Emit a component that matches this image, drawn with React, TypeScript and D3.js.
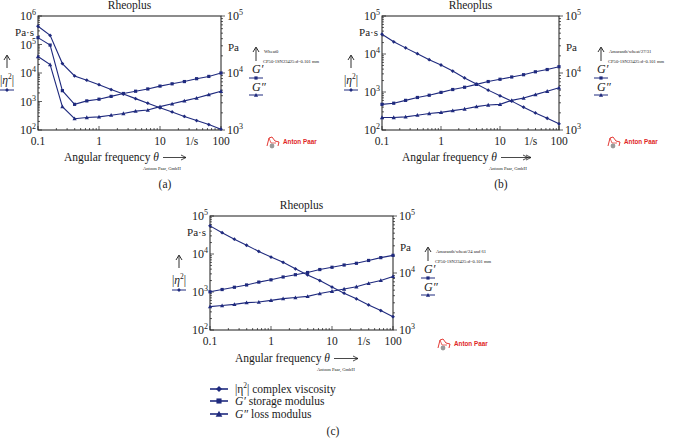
import React from 'react';
import * as d3 from 'd3';

// ---------- data ----------
const freq = [0.1, 0.158, 0.251, 0.398, 0.631, 1, 1.58, 2.51, 3.98, 6.31, 10, 15.8, 25.1, 39.8, 63.1, 100];

// panel (a) – Wheat0
const etaA = [436000, 209000, 21400, 7900, 5600, 3900, 2630, 1820, 1260, 870, 600, 430, 300, 214, 155, 107];
const gpA = [41700, 30900, 4900, 2820, 3240, 3470, 3890, 4370, 4790, 5250, 5890, 6460, 7080, 7940, 8710, 10000];
const gppA = [19500, 14100, 2570, 1580, 1660, 1700, 1820, 1950, 2140, 2240, 2570, 2880, 3240, 3630, 4170, 4790];

// panel (b) – Amaranth/wheat/27/31
const etaB = [33100, 20900, 14500, 10200, 7080, 5130, 3550, 2340, 1620, 1120, 794, 575, 398, 282, 204, 145];
const gpB = [2820, 2950, 3310, 3720, 4070, 4570, 5130, 5620, 6310, 7080, 7760, 8510, 9330, 10500, 11500, 12900];
const gppB = [1660, 1660, 1700, 1820, 1950, 2040, 2190, 2340, 2570, 2750, 2820, 3310, 3630, 4170, 4790, 5500];

// panel (c) – Amaranth/wheat/24 and 61
const etaC = [55000, 36300, 24500, 17000, 11700, 8320, 6030, 4070, 2820, 2000, 1350, 933, 661, 457, 324, 224];
const gpC = [4680, 5130, 5620, 6170, 6920, 7590, 8510, 9330, 10200, 11500, 12600, 13800, 14800, 16600, 18600, 20400];
const gppC = [2570, 2690, 2820, 3020, 3090, 3310, 3550, 3720, 3890, 4370, 4790, 5250, 5750, 6610, 7410, 8710];

const xTickValues = [0.1, 1, 10, 100];
const xTickLabels = ['0.1', '1', '10', '100'];
const unitTickValue = 33;
const unitLabel = '1/s';
const sampleNames = ['Wheat0', 'Amaranth/wheat/27/31', 'Amaranth/wheat/24 and 61'];
const geometryText = 'CP50-1SN23425:d=0.101 mm';
const panelLetters = ['(a)', '(b)', '(c)'];
const legendLabels = ['complex viscosity', 'storage modulus', 'loss modulus'];

// ---------- style ----------
const NAVY = '#1f2a7e';
const INK = '#1a1a1a';
const RED = '#e0261f';
const SERIF = '"Liberation Serif", "DejaVu Serif", serif';
const SANS = '"Liberation Sans", Arial, sans-serif';

type Cfg = {
  left: number; right: number; top: number; bottom: number;
  leftExp: [number, number];
  eta: number[]; gp: number[]; gpp: number[];
  sample: string; letter: string;
  legendX: number; logoX: number; logoY: number;
  titleEnd: number; titleY: number; arrowEnd: number; doubleArrow: boolean;
  creditX: number; letterX: number; letterY: number;
};

const panels: Cfg[] = [
  {
    left: 38, right: 221, top: 16, bottom: 130, leftExp: [2, 6],
    eta: etaA, gp: gpA, gpp: gppA, sample: sampleNames[0], letter: panelLetters[0],
    legendX: 256, logoX: 266, logoY: 136,
    titleEnd: 159, titleY: 161, arrowEnd: 186, doubleArrow: false,
    creditX: 143, letterX: 165, letterY: 188,
  },
  {
    left: 382, right: 559, top: 16, bottom: 130, leftExp: [2, 5],
    eta: etaB, gp: gpB, gpp: gppB, sample: sampleNames[1], letter: panelLetters[1],
    legendX: 601, logoX: 607, logoY: 136,
    titleEnd: 497, titleY: 161, arrowEnd: 531, doubleArrow: true,
    creditX: 489, letterX: 501, letterY: 188,
  },
  {
    left: 210, right: 393, top: 216, bottom: 330, leftExp: [2, 5],
    eta: etaC, gp: gpC, gpp: gppC, sample: sampleNames[2], letter: panelLetters[2],
    legendX: 428, logoX: 437, logoY: 338,
    titleEnd: 330, titleY: 362, arrowEnd: 358, doubleArrow: false,
    creditX: 317, letterX: 333, letterY: 435,
  },
];

function Marker({ kind, x, y, s = 1 }: { kind: string; x: number; y: number; s?: number }) {
  if (kind === 'eta') {
    const r = 1.9 * s;
    return <path d={`M${x},${y - r}L${x + r},${y}L${x},${y + r}L${x - r},${y}Z`} fill={NAVY} />;
  }
  if (kind === 'gp') {
    const h = 1.6 * s;
    return <rect x={x - h} y={y - h} width={2 * h} height={2 * h} fill={NAVY} />;
  }
  const h = 2.1 * s;
  return <path d={`M${x},${y - h}L${x + h},${y + h * 0.8}L${x - h},${y + h * 0.8}Z`} fill={NAVY} />;
}

function Pow({ x, y, exp, anchor }: { x: number; y: number; exp: number; anchor: 'start' | 'end' }) {
  return (
    <text x={x} y={y} textAnchor={anchor} fontSize={12} fill={INK}>
      10<tspan dy={-5} fontSize={8}>{exp}</tspan>
    </text>
  );
}

function logTicks(minExp: number, maxExp: number) {
  const out: { v: number; major: boolean }[] = [];
  for (let e = minExp; e <= maxExp; e++) {
    out.push({ v: Math.pow(10, e), major: true });
    if (e < maxExp) for (let m = 2; m <= 9; m++) out.push({ v: m * Math.pow(10, e), major: false });
  }
  return out;
}

function Logo({ x, y }: { x: number; y: number }) {
  return (
    <g>
      <path d={`M${x + 1},${y + 10} L${x + 3},${y + 2} L${x + 6},${y + 1} L${x + 9},${y + 5} L${x + 13},${y + 6} L${x + 12},${y + 10}`}
        fill="none" stroke={RED} strokeWidth={0.9} />
      <path d={`M${x + 3},${y + 2} L${x + 5},${y + 7} L${x + 10},${y + 7}`} fill="none" stroke={RED} strokeWidth={0.7} />
      <circle cx={x + 6} cy={y + 10} r={2.4} fill="#9a9a9a" />
      <text x={x + 17} y={y + 8} style={{ fontFamily: SANS }} fontWeight="bold" fontSize={6.3} fill={RED}>Anton Paar</text>
    </g>
  );
}

function Panel({ c }: { c: Cfg }) {
  const x = d3.scaleLog().domain([0.1, 100]).range([c.left, c.right]);
  const yL = d3.scaleLog().domain([Math.pow(10, c.leftExp[0]), Math.pow(10, c.leftExp[1])]).range([c.bottom, c.top]);
  const yR = d3.scaleLog().domain([1e3, 1e5]).range([c.bottom, c.top]);
  const mk = (vals: number[], sc: d3.ScaleLogarithmic<number, number>) =>
    d3.line<number>().x((_, i) => x(freq[i])).y((d) => sc(d))(vals) || '';

  const series = [
    { kind: 'eta', vals: c.eta, sc: yL },
    { kind: 'gp', vals: c.gp, sc: yR },
    { kind: 'gpp', vals: c.gpp, sc: yR },
  ];
  const cx = (c.left + c.right) / 2;
  const lx = c.left - 31;
  const ax = c.arrowEnd;

  return (
    <g style={{ fontFamily: SERIF }}>
      <text x={cx} y={c.top - 7} textAnchor="middle" fontSize={11.5} fill={INK}>Rheoplus</text>
      <rect x={c.left} y={c.top} width={c.right - c.left} height={c.bottom - c.top} fill="none" stroke={INK} strokeWidth={1} />
      {logTicks(c.leftExp[0], c.leftExp[1]).map((t, i) => (
        <line key={'l' + i} x1={c.left} x2={c.left + (t.major ? 4 : 2)} y1={yL(t.v)} y2={yL(t.v)} stroke={INK} strokeWidth={0.7} />
      ))}
      {logTicks(3, 5).map((t, i) => (
        <line key={'r' + i} x1={c.right} x2={c.right + (t.major ? 4 : 2)} y1={yR(t.v)} y2={yR(t.v)} stroke={INK} strokeWidth={0.7} />
      ))}
      {logTicks(-1, 2).map((t, i) => (
        <line key={'b' + i} x1={x(t.v)} x2={x(t.v)} y1={c.bottom} y2={c.bottom - (t.major ? 4 : 2)} stroke={INK} strokeWidth={0.7} />
      ))}
      {d3.range(c.leftExp[0], c.leftExp[1] + 1).map((e) => (
        <Pow key={'ll' + e} x={c.left - 2} y={yL(Math.pow(10, e)) + 4} exp={e} anchor="end" />
      ))}
      {[3, 4, 5].map((e) => (
        <Pow key={'rl' + e} x={c.right + 6} y={yR(Math.pow(10, e)) + 4} exp={e} anchor="start" />
      ))}
      <text x={c.left - 4} y={c.top + 19.5} textAnchor="end" fontSize={11} fill={INK}>Pa·s</text>
      <text x={c.right + 7} y={c.top + 35} fontSize={11} fill={INK}>Pa</text>
      {xTickValues.map((v, i) => (
        <text key={'xl' + i} x={x(v)} y={c.bottom + 15} textAnchor="middle" fontSize={11.5} fill={INK}>{xTickLabels[i]}</text>
      ))}
      <text x={x(unitTickValue)} y={c.bottom + 15} textAnchor="middle" fontSize={11.5} fill={INK}>{unitLabel}</text>
      <text x={c.titleEnd} y={c.titleY} textAnchor="end" fontSize={11.5} fill={INK}>
        Angular frequency <tspan fontStyle="italic">θ</tspan>
      </text>
      <line x1={c.titleEnd + 4} x2={ax} y1={c.titleY - 3.5} y2={c.titleY - 3.5} stroke={INK} strokeWidth={0.8} />
      <path d={`M${ax - 5},${c.titleY - 6}L${ax},${c.titleY - 3.5}L${ax - 5},${c.titleY - 1}`} fill="none" stroke={INK} strokeWidth={0.8} />
      {c.doubleArrow && (
        <path d={`M${ax - 8},${c.titleY - 6}L${ax - 3},${c.titleY - 3.5}L${ax - 8},${c.titleY - 1}`} fill="none" stroke={INK} strokeWidth={0.8} />
      )}
      <text x={c.creditX} y={c.titleY + 9} fontSize={4.6} fill={INK}>Antoon Paar, GmbH</text>
      <text x={c.letterX} y={c.letterY} textAnchor="middle" fontSize={11.5} fill={INK}>{c.letter}</text>
      {/* left legend */}
      <line x1={lx} x2={lx} y1={c.top + 52} y2={c.top + 40} stroke={INK} strokeWidth={0.9} />
      <path d={`M${lx - 3},${c.top + 44}L${lx},${c.top + 39}L${lx + 3},${c.top + 44}`} fill="none" stroke={INK} strokeWidth={0.9} />
      <text x={lx} y={c.top + 68} textAnchor="middle" fontSize={11.5} fill={INK}>
        |<tspan fontStyle="italic">η</tspan><tspan dy={-5} fontSize={7.5}>2</tspan><tspan dy={5}>|</tspan>
      </text>
      <line x1={lx - 7} x2={lx + 7} y1={c.top + 74} y2={c.top + 74} stroke={NAVY} strokeWidth={1} />
      <Marker kind="eta" x={lx} y={c.top + 74} />
      {/* right legend */}
      <line x1={c.legendX} x2={c.legendX} y1={c.top + 45} y2={c.top + 32} stroke={INK} strokeWidth={0.9} />
      <path d={`M${c.legendX - 3},${c.top + 36}L${c.legendX},${c.top + 31}L${c.legendX + 3},${c.top + 36}`} fill="none" stroke={INK} strokeWidth={0.9} />
      <text x={c.legendX + 8} y={c.top + 37} fontSize={4.6} fill={INK}>{c.sample}</text>
      <text x={c.legendX + 7} y={c.top + 47} fontSize={4.6} fill={INK}>{geometryText}</text>
      <text x={c.legendX - 4} y={c.top + 57} fontSize={12} fontStyle="italic" fill={INK}>G′</text>
      <line x1={c.legendX - 7} x2={c.legendX + 7} y1={c.top + 62} y2={c.top + 62} stroke={NAVY} strokeWidth={1} />
      <Marker kind="gp" x={c.legendX} y={c.top + 62} />
      <text x={c.legendX - 4} y={c.top + 75} fontSize={12} fontStyle="italic" fill={INK}>G″</text>
      <line x1={c.legendX - 7} x2={c.legendX + 7} y1={c.top + 79} y2={c.top + 79} stroke={NAVY} strokeWidth={1} />
      <Marker kind="gpp" x={c.legendX} y={c.top + 79} />
      <Logo x={c.logoX} y={c.logoY} />
      {series.map((s) => (
        <g key={s.kind}>
          <path d={mk(s.vals, s.sc)} fill="none" stroke={NAVY} strokeWidth={1.1} />
          {s.vals.map((v, i) => (
            <Marker key={i} kind={s.kind} x={x(freq[i])} y={s.sc(v)} />
          ))}
        </g>
      ))}
    </g>
  );
}

export default function App() {
  const legendKinds = ['eta', 'gp', 'gpp'];
  const legendY = [389, 401, 414];
  return (
    <svg width={676} height={443} style={{ position: 'absolute', left: 0, top: 0, background: '#fff' }}>
      <rect width={676} height={443} fill="#fff" />
      {panels.map((c, i) => <Panel key={i} c={c} />)}
      <g style={{ fontFamily: SERIF }}>
        {legendKinds.map((k, i) => (
          <g key={k}>
            <line x1={210} x2={228} y1={legendY[i]} y2={legendY[i]} stroke={NAVY} strokeWidth={1.6} />
            <Marker kind={k} x={219} y={legendY[i]} s={1.6} />
            <text x={235} y={legendY[i] + 4} fontSize={11.5} fill={INK}>
              {i === 0 && <tspan>|η<tspan dy={-5} fontSize={7.5}>2</tspan><tspan dy={5}>| </tspan></tspan>}
              {i === 1 && <tspan><tspan fontStyle="italic">G′</tspan> </tspan>}
              {i === 2 && <tspan><tspan fontStyle="italic">G″</tspan> </tspan>}
              {legendLabels[i]}
            </text>
          </g>
        ))}
      </g>
    </svg>
  );
}
